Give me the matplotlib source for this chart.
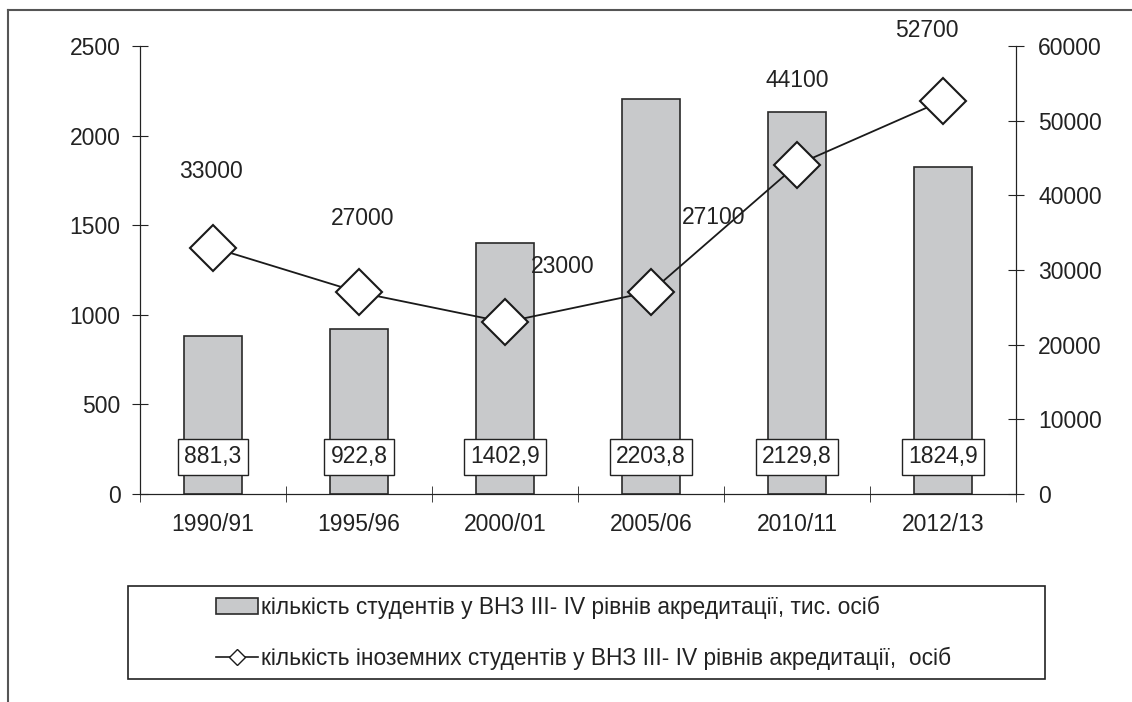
import matplotlib.pyplot as plt
import numpy as np
from matplotlib.lines import Line2D
from matplotlib.patches import Rectangle, Patch

plt.rcParams['font.family'] = ['Liberation Sans', 'DejaVu Sans']

years = ['1990/91', '1995/96', '2000/01', '2005/06', '2010/11', '2012/13']
students = [881.3, 922.8, 1402.9, 2203.8, 2129.8, 1824.9]
foreign = [33000, 27000, 23000, 27100, 44100, 52700]
bar_labels = ['881,3', '922,8', '1402,9', '2203,8', '2129,8', '1824,9']
# label offsets from the marker, in pixels
line_offsets = [(-2, 76), (4, 74), (58, 56), (63, 74), (0, 84), (-16, 70)]

W, H = 1132, 702
fig = plt.figure(figsize=(W / 100, H / 100), dpi=100)
ax = fig.add_axes([140 / W, 1 - 494 / H, 876 / W, 448 / H])
ax2 = ax.twinx()

fs = 16.5
x = np.arange(len(years))
ax.bar(x, students, width=0.4, color='#c8c9cb', edgecolor='#2a2a2a', linewidth=1.2, zorder=2)
ax.set_xlim(-0.5, 5.5)
ax.set_ylim(0, 2500)
ax.set_yticks(np.arange(0, 2501, 500))
ax.set_xticks(x)
ax.set_xticklabels(years)
ax.set_xticks(np.arange(-0.5, 6, 1), minor=True)
ax.tick_params(axis='x', which='major', length=0, pad=14, labelsize=fs, colors='#222222')
ax.tick_params(axis='x', which='minor', direction='inout', length=12, color='#222222')
ax.tick_params(axis='y', direction='inout', length=12, pad=8, labelsize=fs, colors='#222222')
for s in ['top']:
    ax.spines[s].set_visible(False)
    ax2.spines[s].set_visible(False)
for s in ['left', 'bottom', 'right']:
    ax.spines[s].set_color('#222222')
    ax2.spines[s].set_color('#222222')

for xi, lab in zip(x, bar_labels):
    ax.annotate(lab, (xi, 0), xytext=(0, 37), textcoords='offset pixels',
                ha='center', va='center', fontsize=fs, color='#222222', zorder=5,
                bbox=dict(boxstyle='square,pad=0.28', fc='white', ec='#222222', lw=1))

ax2.plot(x, foreign, color='#1a1a1a', lw=1.3, marker='D', ms=23.5,
         mfc='white', mec='#1a1a1a', mew=1.5, zorder=3)
ax2.set_ylim(0, 60000)
ax2.set_yticks(np.arange(0, 60001, 10000))
ax2.tick_params(axis='y', direction='inout', length=12, pad=10, labelsize=fs, colors='#222222')
for xi, v, (dx, dy) in zip(x, foreign, line_offsets):
    ax2.annotate(str(v), (xi, v), xytext=(dx, dy), textcoords='offset pixels',
                 ha='center', va='center', fontsize=fs, color='#222222')

# legend box
fig.add_artist(Rectangle((128 / W, 1 - 679 / H), 917 / W, 93 / H, transform=fig.transFigure,
                         fill=False, ec='#222222', lw=1.2))
handles = [Patch(fc='#c8c9cb', ec='#2a2a2a', lw=1.2),
           Line2D([], [], color='#1a1a1a', lw=1.2, marker='D', ms=8, mfc='white', mec='#1a1a1a')]
labels = ['кількість студентів у ВНЗ III- IV рівнів акредитації, тис. осіб',
          'кількість іноземних студентів у ВНЗ III- IV рівнів акредитації,  осіб']
fig.legend(handles, labels, loc='upper left', bbox_to_anchor=(216 / W, 1 - 596 / H),
           frameon=False, fontsize=16.4, handlelength=1.85, handletextpad=0.12,
           labelspacing=1.22, borderaxespad=0, borderpad=0, labelcolor='#222222')

# outer frame
fig.add_artist(Line2D([8 / W, 8 / W], [0, 1 - 10 / H], transform=fig.transFigure, color='#555555', lw=1.5))
fig.add_artist(Line2D([8 / W, 1], [1 - 10 / H, 1 - 10 / H], transform=fig.transFigure, color='#555555', lw=1.5))

fig.savefig('out.png', dpi=100)
